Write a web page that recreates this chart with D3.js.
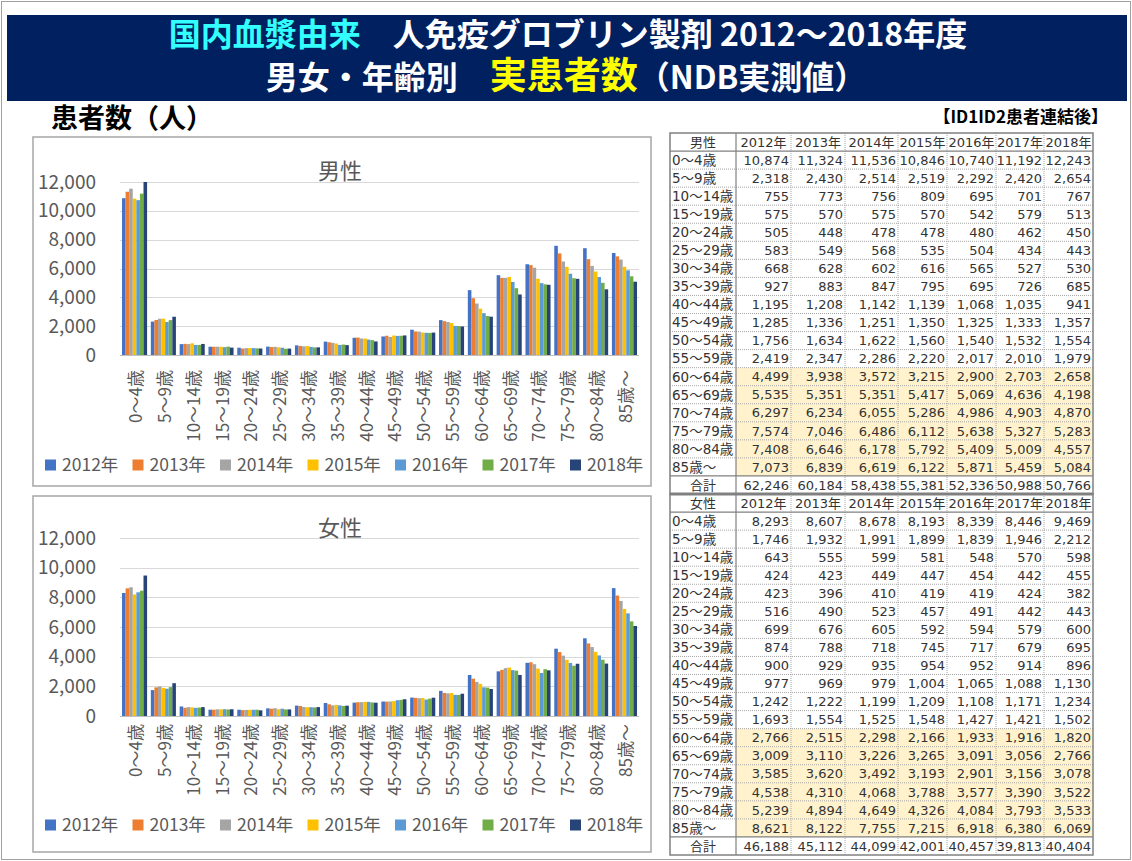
<!DOCTYPE html>
<html>
<head>
<meta charset="utf-8">
<script src="https://cdn.jsdelivr.net/npm/d3@7/dist/d3.min.js"></script>
<style>
  body { margin: 0; background: #fff; }
  svg { display: block; font-family: "Noto Sans CJK JP", "Noto Sans", sans-serif; }
</style>
</head>
<body>
<svg id="chart" width="1132" height="861"></svg>
<script>
/* global d3 */

var ages = ['0～4歳', '5～9歳', '10～14歳', '15～19歳', '20～24歳', '25～29歳', '30～34歳',
  '35～39歳', '40～44歳', '45～49歳', '50～54歳', '55～59歳', '60～64歳', '65～69歳',
  '70～74歳', '75～79歳', '80～84歳', '85歳～']
var years = ['2012年', '2013年', '2014年', '2015年', '2016年', '2017年', '2018年']

// rows = age groups, columns = years
var maleValues = [
  [10874, 11324, 11536, 10846, 10740, 11192, 12243],
  [2318, 2430, 2514, 2519, 2292, 2420, 2654],
  [755, 773, 756, 809, 695, 701, 767],
  [575, 570, 575, 570, 542, 579, 513],
  [505, 448, 478, 478, 480, 462, 450],
  [583, 549, 568, 535, 504, 434, 443],
  [668, 628, 602, 616, 565, 527, 530],
  [927, 883, 847, 795, 695, 726, 685],
  [1195, 1208, 1142, 1139, 1068, 1035, 941],
  [1285, 1336, 1251, 1350, 1325, 1333, 1357],
  [1756, 1634, 1622, 1560, 1540, 1532, 1554],
  [2419, 2347, 2286, 2220, 2017, 2010, 1979],
  [4499, 3938, 3572, 3215, 2900, 2703, 2658],
  [5535, 5351, 5351, 5417, 5069, 4636, 4198],
  [6297, 6234, 6055, 5286, 4986, 4903, 4870],
  [7574, 7046, 6486, 6112, 5638, 5327, 5283],
  [7408, 6646, 6178, 5792, 5409, 5009, 4557],
  [7073, 6839, 6619, 6122, 5871, 5459, 5084]
]
var maleTotals = [62246, 60184, 58438, 55381, 52336, 50988, 50766]

var femaleValues = [
  [8293, 8607, 8678, 8193, 8339, 8446, 9469],
  [1746, 1932, 1991, 1899, 1839, 1946, 2212],
  [643, 555, 599, 581, 548, 570, 598],
  [424, 423, 449, 447, 454, 442, 455],
  [423, 396, 410, 419, 419, 424, 382],
  [516, 490, 523, 457, 491, 442, 443],
  [699, 676, 605, 592, 594, 579, 600],
  [874, 788, 718, 745, 717, 679, 695],
  [900, 929, 935, 954, 952, 914, 896],
  [977, 969, 979, 1004, 1065, 1088, 1130],
  [1242, 1222, 1199, 1209, 1108, 1171, 1234],
  [1693, 1554, 1525, 1548, 1427, 1421, 1502],
  [2766, 2515, 2298, 2166, 1933, 1916, 1820],
  [3009, 3110, 3226, 3265, 3091, 3056, 2766],
  [3585, 3620, 3492, 3193, 2901, 3156, 3078],
  [4538, 4310, 4068, 3788, 3577, 3390, 3522],
  [5239, 4894, 4649, 4326, 4084, 3793, 3533],
  [8621, 8122, 7755, 7215, 6918, 6380, 6069]
]
var femaleTotals = [46188, 45112, 44099, 42001, 40457, 39813, 40404]

var yTicks = [0, 2000, 4000, 6000, 8000, 10000, 12000]
var seriesColors = ['#4472C4', '#ED7D31', '#A5A5A5', '#FFC000', '#5B9BD5', '#70AD47', '#264478']

var svg = d3.select('#chart')
var fmt = d3.format(',')
var txtGray = '#595959'

/*
    --------------------------------------
    Page frame and header band
*/
svg.append('rect')
    .attr('x', 1.5).attr('y', 1.5).attr('width', 1129).attr('height', 858)
    .attr('fill', 'none').attr('stroke', '#a0a0a0')

svg.append('rect')
    .attr('x', 7).attr('y', 15).attr('width', 1120).attr('height', 86)
    .attr('fill', '#002060')

var t1 = svg.append('text')
    .attr('x', 568).attr('y', 46)
    .attr('text-anchor', 'middle')
    .attr('font-size', 32).attr('font-weight', 'bold').attr('fill', '#fff')
t1.append('tspan').attr('fill', '#33FFFF').text('国内血漿由来')
t1.append('tspan').text('　人免疫グロブリン製剤 2012～2018年度')

var t2 = svg.append('text')
    .attr('x', 566).attr('y', 89)
    .attr('text-anchor', 'middle')
    .attr('font-size', 32).attr('font-weight', 'bold').attr('fill', '#fff')
t2.append('tspan').text('男女・年齢別　')
t2.append('tspan').attr('fill', '#FFFF00').attr('font-size', 37).text('実患者数')
t2.append('tspan').text('（NDB実測値）')

svg.append('text')
    .attr('x', 51).attr('y', 128)
    .attr('font-size', 27).attr('font-weight', 'bold').attr('fill', '#000')
    .text('患者数（人）')

svg.append('text')
    .attr('x', 1108).attr('y', 123)
    .attr('text-anchor', 'end')
    .attr('font-size', 17).attr('font-weight', 'bold').attr('fill', '#000')
    .text('【ID1ID2患者連結後】')

/*
    --------------------------------------
    Grouped bar charts
*/
function drawChart (cfg) {
  var g = svg.append('g')

  g.append('rect')
      .attr('x', cfg.box[0]).attr('y', cfg.box[1])
      .attr('width', cfg.box[2]).attr('height', cfg.box[3])
      .attr('fill', '#fff').attr('stroke', '#a6a6a6').attr('stroke-width', 1.5)

  var mapX = d3.scaleBand()
      .domain(ages)
      .range([120, 639])
      .paddingInner(0.13)
      .paddingOuter(0.07)

  var mapS = d3.scaleBand()
      .domain(years)
      .range([0, mapX.bandwidth()])

  var mapY = d3.scaleLinear()
      .domain([0, 12000])
      .range([cfg.y0, cfg.y1])
      .clamp(true)

  // gridlines + tick labels
  g.append('g').selectAll('line')
      .data(yTicks)
      .enter().append('line')
      .attr('x1', 120).attr('x2', 639)
      .attr('y1', d => Math.round(mapY(d)) + 0.5)
      .attr('y2', d => Math.round(mapY(d)) + 0.5)
      .attr('stroke', d => d === 0 ? '#bfbfbf' : '#d9d9d9')

  g.append('g').selectAll('text')
      .data(yTicks)
      .enter().append('text')
      .attr('x', 96)
      .attr('y', d => mapY(d))
      .attr('dy', '0.35em')
      .attr('text-anchor', 'end')
      .attr('font-size', 19).attr('fill', txtGray)
      .text(d => fmt(d))

  g.append('text')
      .attr('x', 340).attr('y', cfg.titleY)
      .attr('text-anchor', 'middle')
      .attr('font-size', 22).attr('fill', txtGray)
      .text(cfg.title)

  // bars
  var groups = g.append('g').selectAll('g')
      .data(cfg.values)
      .enter().append('g')
      .attr('transform', (d, i) => `translate(${mapX(ages[i])}, 0)`)

  groups.selectAll('rect')
      .data(d => d)
      .enter().append('rect')
      .attr('x', (d, i) => mapS(years[i]))
      .attr('width', mapS.bandwidth())
      .attr('y', d => mapY(d))
      .attr('height', d => mapY(0) - mapY(d))
      .attr('fill', (d, i) => seriesColors[i])

  // rotated category labels
  g.append('g').selectAll('text')
      .data(ages)
      .enter().append('text')
      .attr('transform', d => `translate(${mapX(d) + mapX.bandwidth() / 2}, ${cfg.labelY}) rotate(-90)`)
      .attr('text-anchor', 'end')
      .attr('dominant-baseline', 'central')
      .attr('font-size', 17).attr('fill', txtGray)
      .text(d => d)

  // legend
  var leg = g.append('g').selectAll('g')
      .data(years)
      .enter().append('g')
      .attr('transform', (d, i) => `translate(${45 + i * 87.5}, ${cfg.legendY})`)
  leg.append('rect')
      .attr('x', 0).attr('y', -5.5).attr('width', 11).attr('height', 11)
      .attr('fill', (d, i) => seriesColors[i])
  leg.append('text')
      .attr('x', 17).attr('dy', '0.35em')
      .attr('font-size', 17.5).attr('fill', txtGray)
      .text(d => d)
}

drawChart({
  box: [33, 137, 618, 349], title: '男性', titleY: 179,
  values: maleValues, y0: 355, y1: 182, labelY: 370, legendY: 465
})
drawChart({
  box: [33, 496, 618, 356], title: '女性', titleY: 536,
  values: femaleValues, y0: 716, y1: 538, labelY: 724, legendY: 825
})

/*
    --------------------------------------
    Data tables
*/
var colEdges = [670, 736, 791, 845, 898, 947, 996, 1044, 1093]
var rowH = 18.05

function drawTable (top, sexLabel, values, totals) {
  var g = svg.append('g')
  var nRows = ages.length + 2
  var bottom = top + nRows * rowH
  var rowY = i => top + i * rowH

  // highlighted elderly rows (60～64 .. 85～)
  g.append('g').selectAll('rect')
      .data(d3.range(12, 18))
      .enter().append('rect')
      .attr('x', colEdges[1]).attr('width', colEdges[8] - colEdges[1])
      .attr('y', i => rowY(i + 1)).attr('height', rowH)
      .attr('fill', '#FFF2CC')

  // dotted inner grid
  g.append('g').selectAll('line')
      .data(d3.range(2, nRows - 1))
      .enter().append('line')
      .attr('x1', colEdges[0]).attr('x2', colEdges[8])
      .attr('y1', i => rowY(i)).attr('y2', i => rowY(i))
      .attr('stroke', '#a6a6a6').attr('stroke-dasharray', '1,1')
  g.append('g').selectAll('line')
      .data(colEdges.slice(2, 8))
      .enter().append('line')
      .attr('x1', d => d).attr('x2', d => d)
      .attr('y1', top).attr('y2', bottom)
      .attr('stroke', '#a6a6a6').attr('stroke-dasharray', '1,1')

  // solid rules
  var solid = [
    [colEdges[0], rowY(1), colEdges[8], rowY(1)],
    [colEdges[0], rowY(nRows - 1), colEdges[8], rowY(nRows - 1)],
    [colEdges[1], top, colEdges[1], bottom]
  ]
  g.append('g').selectAll('line')
      .data(solid)
      .enter().append('line')
      .attr('x1', d => d[0]).attr('y1', d => d[1])
      .attr('x2', d => d[2]).attr('y2', d => d[3])
      .attr('stroke', '#808080').attr('stroke-width', 1.2)

  g.append('rect')
      .attr('x', colEdges[0]).attr('y', top)
      .attr('width', colEdges[8] - colEdges[0]).attr('height', nRows * rowH)
      .attr('fill', 'none').attr('stroke', '#808080').attr('stroke-width', 1.5)

  var txt = g.append('g')
      .attr('font-family', '"DejaVu Sans", "Noto Sans CJK JP", sans-serif')
      .attr('font-size', 13).attr('fill', '#333')

  // header row
  txt.append('text')
      .attr('x', (colEdges[0] + colEdges[1]) / 2).attr('y', rowY(0.5)).attr('dy', '0.36em')
      .attr('text-anchor', 'middle').text(sexLabel)
  txt.selectAll('.yr')
      .data(years)
      .enter().append('text')
      .attr('x', (d, i) => (colEdges[i + 1] + colEdges[i + 2]) / 2)
      .attr('y', rowY(0.5)).attr('dy', '0.36em')
      .attr('text-anchor', 'middle')
      .text(d => d)

  // age labels
  txt.selectAll('.age')
      .data(ages)
      .enter().append('text')
      .attr('x', colEdges[0] + 2)
      .attr('y', (d, i) => rowY(i + 1.5)).attr('dy', '0.36em')
      .attr('font-size', 13.5)
      .text(d => d)

  txt.append('text')
      .attr('x', (colEdges[0] + colEdges[1]) / 2).attr('y', rowY(nRows - 0.5)).attr('dy', '0.36em')
      .attr('text-anchor', 'middle').text('合計')

  // values
  values.concat([totals]).forEach(function (row, r) {
    txt.append('g').selectAll('text')
        .data(row)
        .enter().append('text')
        .attr('x', (d, i) => colEdges[i + 2] - 2)
        .attr('y', rowY(r + 1.5)).attr('dy', '0.36em')
        .attr('text-anchor', 'end')
        .text(d => fmt(d))
  })
}

drawTable(133, '男性', maleValues, maleTotals)
drawTable(133 + 20 * rowH, '女性', femaleValues, femaleTotals)

// double rule between the two tables
svg.append('line')
    .attr('x1', colEdges[0]).attr('x2', colEdges[8])
    .attr('y1', 133 + 20 * rowH).attr('y2', 133 + 20 * rowH)
    .attr('stroke', '#808080').attr('stroke-width', 3)
</script>
</body>
</html>
